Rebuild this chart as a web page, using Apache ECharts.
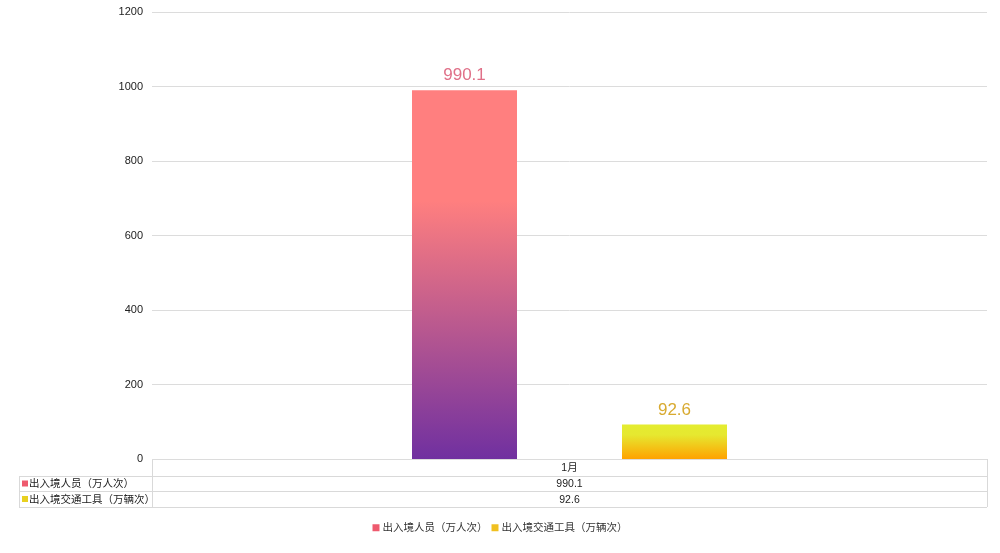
<!DOCTYPE html>
<html><head><meta charset="utf-8">
<script src="https://cdn.jsdelivr.net/npm/echarts@6/dist/echarts.min.js"></script>
<style>html,body{margin:0;padding:0;background:#fff}#c{width:1000px;height:553px}</style>
</head><body><div id="c"></div>
<script>
const categories = ['1月'];
const seriesNames = ['出入境人员（万人次）', '出入境交通工具（万辆次）'];
const personValues = [990.1];
const vehicleValues = [92.6];
const yTicks = { min: 0, max: 1200, interval: 200 };

const FONT = '"Liberation Sans", "Noto Sans CJK SC", sans-serif';
const chart = echarts.init(document.getElementById('c'));

const grad1 = new echarts.graphic.LinearGradient(0, 0, 0, 1, [
  { offset: 0, color: '#ff7f7f' }, { offset: 0.3, color: '#ff7f7f' }, { offset: 1, color: '#7030a0' }]);
const grad2 = new echarts.graphic.LinearGradient(0, 0, 0, 1, [
  { offset: 0, color: '#e4ec30' }, { offset: 0.3, color: '#e6e830' }, { offset: 1, color: '#ffa200' }]);

// data table
const L = 19, C = 152, R = 987;
const rowY = [459, 476, 491, 507];
const lineStyle = { stroke: '#d9d9d9', lineWidth: 1 };
const g = [];
function hline(x1, x2, y) { g.push({ type: 'line', shape: { x1, y1: y + 0.5, x2, y2: y + 0.5 }, style: lineStyle, silent: true }); }
function vline(x, y1, y2) { g.push({ type: 'line', shape: { x1: x + 0.5, y1, x2: x + 0.5, y2 }, style: lineStyle, silent: true }); }
hline(C, R, rowY[0]); hline(L, R, rowY[1]); hline(L, R, rowY[2]); hline(L, R, rowY[3]);
vline(L, rowY[1], rowY[3]); vline(C, rowY[0], rowY[3]); vline(R, rowY[0], rowY[3]);
const mid = (C + R) / 2;
const txt = (x, y, s, align) => g.push({ type: 'text', x, y, silent: true,
  style: { text: s, font: '10.5px ' + FONT, fill: '#222', align: align || 'center', verticalAlign: 'middle' } });
categories.forEach(c => txt(mid, (rowY[0] + rowY[1]) / 2 + 1, c));
txt(mid, (rowY[1] + rowY[2]) / 2 + 1, String(personValues[0]));
txt(mid, (rowY[2] + rowY[3]) / 2 + 1, String(vehicleValues[0]));
const markColors = ['#ee5a6e', '#e8d020'];
seriesNames.forEach((n, i) => {
  const yc = (rowY[i + 1] + rowY[i + 2]) / 2;
  g.push({ type: 'rect', shape: { x: 22, y: yc - 3, width: 6, height: 6 }, style: { fill: markColors[i] }, silent: true });
  txt(29, yc + 1, n, 'left');
});

chart.setOption({
  backgroundColor: '#fff',
  animation: false,
  textStyle: { fontFamily: FONT },
  grid: { left: 152, right: 13, top: 12, bottom: 94 },
  legend: {
    bottom: 15, left: 'center', itemWidth: 7, itemHeight: 7, itemGap: 4, icon: 'rect',
    textStyle: { fontSize: 10.5, color: '#333', padding: [1, 0, 0, -2] },
    data: [{ name: seriesNames[0], itemStyle: { color: '#ee5a6e' } },
           { name: seriesNames[1], itemStyle: { color: '#f0c020' } }]
  },
  xAxis: { type: 'category', data: categories, axisLine: { show: false }, axisTick: { show: false }, axisLabel: { show: false } },
  yAxis: {
    type: 'value', min: yTicks.min, max: yTicks.max, interval: yTicks.interval,
    axisLabel: { fontSize: 11, color: '#222', margin: 9, formatter: v => String(v) },
    splitLine: { lineStyle: { color: '#dcdcdc' } }
  },
  series: [
    { name: seriesNames[0], type: 'bar', data: personValues, barWidth: 105, barGap: '100%',
      itemStyle: { color: grad1 },
      label: { show: true, position: 'top', distance: 6, fontSize: 17, color: '#e07088' } },
    { name: seriesNames[1], type: 'bar', data: vehicleValues, barWidth: 105,
      itemStyle: { color: grad2 },
      label: { show: true, position: 'top', distance: 6, fontSize: 17, color: '#d8aa30' } }
  ],
  graphic: g
});
</script></body></html>
